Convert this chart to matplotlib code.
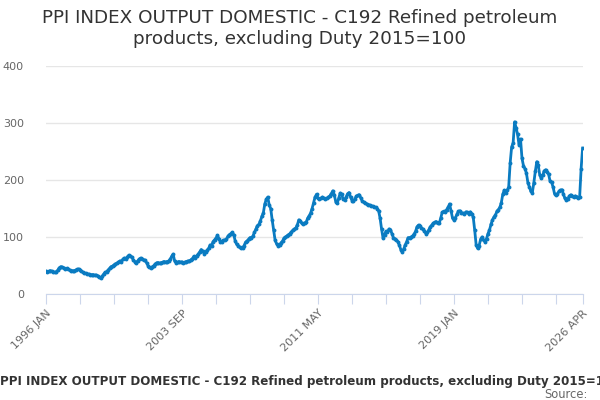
import matplotlib
matplotlib.use("Agg")
import matplotlib.pyplot as plt
import numpy as np
import pandas as pd

TITLE = "PPI INDEX OUTPUT DOMESTIC - C192 Refined petroleum products, excluding Duty 2015=100"

# Monthly index values, one row per year
values_1996_2000 = [
    40, 39, 40, 41, 40, 39, 38, 39, 42, 46, 48, 47,
    46, 44, 45, 43, 42, 41, 41, 40, 42, 43, 44, 42,
    40, 38, 37, 36, 35, 35, 34, 34, 34, 33, 33, 32,
    29, 28, 31, 35, 38, 39, 42, 45, 48, 49, 51, 53,
    54, 56, 58, 57, 61, 63, 62, 65, 68, 67, 65, 60,
]
values_2001_2005 = [
    57, 55, 58, 61, 63, 62, 60, 59, 55, 50, 47, 46,
    48, 50, 53, 55, 55, 54, 55, 56, 57, 56, 57, 58,
    61, 66, 70, 58, 55, 56, 57, 56, 56, 55, 56, 57,
    58, 58, 60, 62, 66, 64, 67, 70, 74, 78, 75, 71,
    74, 77, 80, 86, 84, 92, 95, 98, 103, 97, 91, 92,
]
values_2006_2010 = [
    94, 95, 96, 101, 104, 106, 108, 104, 93, 87, 85, 82,
    80, 81, 85, 91, 93, 96, 99, 98, 102, 108, 114, 120,
    122, 128, 136, 142, 158, 166, 170, 156, 150, 130, 112, 94,
    88, 85, 86, 90, 93, 98, 100, 102, 104, 106, 109, 112,
    114, 116, 121, 130, 128, 124, 123, 125, 126, 133, 137, 142,
]
values_2011_2015 = [
    150, 160, 170, 175, 168, 166, 168, 170, 168, 166, 168, 170,
    172, 176, 181, 174, 162, 159, 168, 177, 175, 166, 165, 170,
    176, 178, 170, 164, 164, 167, 172, 173, 174, 168, 163, 161,
    159, 158, 157, 156, 155, 154, 153, 152, 150, 146, 133, 114,
    98, 104, 110, 108, 114, 113, 106, 99, 97, 95, 92, 86,
]
values_2016_2020 = [
    78, 74, 79, 86, 92, 99, 98, 100, 102, 105, 110, 118,
    121, 119, 115, 114, 110, 106, 108, 113, 118, 121, 124, 126,
    127, 125, 124, 133, 143, 145, 144, 148, 152, 158, 146, 133,
    130, 134, 140, 145, 146, 142, 142, 140, 144, 143, 141, 144,
    141, 135, 112, 86, 80, 85, 96, 100, 94, 92, 97, 106,
]
values_2021_2026 = [
    112, 122, 130, 135, 138, 145, 148, 152, 160, 175, 182, 178,
    182, 188, 230, 258, 265, 302, 292, 280, 262, 272, 238, 225,
    220, 212, 195, 188, 180, 178, 195, 215, 232, 226, 209, 203,
    208, 216, 218, 214, 210, 198, 196, 188, 176, 174, 176, 180,
    182, 183, 175, 168, 165, 166, 172, 174, 172, 170, 172, 171,
    168, 170, 220, 256,
]

tick_labels = ["1996 JAN", "2003 SEP", "2011 MAY", "2019 JAN", "2026 APR"]
y_ticks = [0, 100, 200, 300, 400]

values = (values_1996_2000 + values_2001_2005 + values_2006_2010
          + values_2011_2015 + values_2016_2020 + values_2021_2026)
months = pd.date_range("1996-01-01", periods=len(values), freq="MS")
labels = [d.strftime("%Y %b").upper() for d in months]
x = np.arange(len(values))

LINE = "#0a7bc1"
GRID = "#e6e6e6"
AXIS = "#ccd6eb"
TEXT = "#666666"

fig = plt.figure(figsize=(6, 4), dpi=100)
ax = fig.add_axes([0.0767, 0.265, 0.8943, 0.57])

ax.plot(x, values, color=LINE, linewidth=2.0, marker="o", markersize=2.8,
        markeredgewidth=0, zorder=3)

ax.set_xlim(0, len(values) - 1)
ax.set_ylim(0, 400)
ax.set_yticks(y_ticks)
ax.set_yticklabels([str(v) for v in y_ticks])
ax.grid(axis="y", color=GRID, linewidth=1)
ax.set_axisbelow(True)

# ticks every 23 months, labels on every 4th plus the last month
step = 23
tick_pos = list(range(0, len(values), step))
if tick_pos[-1] != len(values) - 1:
    tick_pos.append(len(values) - 1)
ax.set_xticks(tick_pos)
ax.set_xticklabels([labels[p] if labels[p] in tick_labels else "" for p in tick_pos],
                   rotation=45, ha="right", va="top", rotation_mode="anchor")

for side in ["top", "right", "left"]:
    ax.spines[side].set_visible(False)
ax.spines["bottom"].set_color(AXIS)
ax.tick_params(axis="x", length=7, color=AXIS, labelcolor=TEXT, labelsize=8, pad=3)
ax.tick_params(axis="y", length=0, labelcolor=TEXT, labelsize=8, pad=16)

fig.text(0.5, 0.978, "PPI INDEX OUTPUT DOMESTIC - C192 Refined petroleum\nproducts, excluding Duty 2015=100",
         ha="center", va="top", fontsize=13.2, color="#333333", linespacing=1.2)
fig.text(0.517, 0.045, TITLE, ha="center", va="center", fontsize=8.6,
         fontweight="bold", color="#333333")
fig.text(0.98, 0.014, "Source:", ha="right", va="center", fontsize=8.3, color=TEXT)

fig.savefig("out.png", dpi=100)
